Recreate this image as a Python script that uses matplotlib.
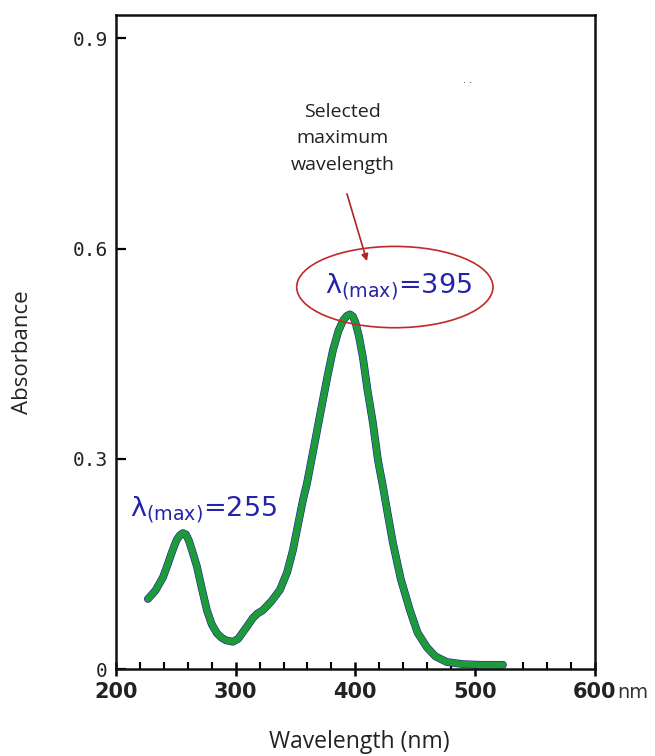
import matplotlib
matplotlib.use('Agg')
import numpy
from matplotlib import pyplot
from matplotlib.patches import Ellipse

# spectrum (nm, absorbance)
wavelength = [226.7, 233, 239.3, 243, 246, 249, 251, 253.5, 256, 258.5, 261, 264,
              267.7, 272, 276, 280, 284.4, 288, 292, 297.7, 302, 305, 310, 314.5,
              318, 322.8, 330, 337, 343, 347.9, 352, 356.2, 359.6, 366, 372.9,
              377, 381.3, 386, 390, 393, 395.5, 398, 400, 403, 406.3, 410, 414.7,
              418.9, 423.1, 427, 431.4, 438, 445.6, 452, 459.8, 467, 476.5, 490,
              505, 523.3]
absorbance = [0.100, 0.112, 0.131, 0.148, 0.163, 0.177, 0.185, 0.191, 0.194, 0.192,
              0.183, 0.167, 0.146, 0.113, 0.084, 0.064, 0.051, 0.045, 0.041, 0.039,
              0.043, 0.050, 0.062, 0.073, 0.079, 0.084, 0.097, 0.113, 0.138, 0.170,
              0.205, 0.241, 0.265, 0.322, 0.384, 0.420, 0.455, 0.483, 0.498, 0.504,
              0.506, 0.503, 0.495, 0.475, 0.445, 0.400, 0.351, 0.298, 0.260, 0.222,
              0.180, 0.128, 0.084, 0.052, 0.031, 0.018, 0.010, 0.007, 0.006, 0.006]

x_ticks = [200, 300, 400, 500, 600]
y_ticks = [0, 0.3, 0.6, 0.9]
y_tick_labels = ['0', '0.3', '0.6', '0.9']

label_main = 'λ$_{\\rm (max)}$=395'
label_second = 'λ$_{\\rm (max)}$=255'

fig = pyplot.figure(figsize=(6.55, 7.56), dpi=100)
ax = fig.add_axes([0.177, 0.115, 0.731, 0.865])

# thin blue original trace under the thick green one
ax.plot(wavelength, absorbance, color='#1c1c9c', lw=5.6, solid_capstyle='round',
        solid_joinstyle='round', zorder=2)
ax.plot(wavelength, absorbance, color='#1e9a3a', lw=4.8, solid_capstyle='round',
        solid_joinstyle='round', zorder=3)

ax.set_xlim(200, 600)
ax.set_ylim(0, 0.933)
ax.set_xticks(x_ticks)
ax.set_xticks(numpy.arange(200, 601, 20), minor=True)
ax.set_yticks(y_ticks)
ax.set_yticklabels(y_tick_labels)

for s in ax.spines.values():
    s.set_linewidth(1.8)
    s.set_color('#111111')

ax.tick_params(axis='x', which='major', direction='inout', length=10, width=1.8,
               labelsize=15, pad=4)
ax.tick_params(axis='x', which='minor', direction='in', length=5, width=1.5)
ax.tick_params(axis='y', which='major', direction='in', length=7, width=1.6,
               labelsize=14, pad=6)
for lab in ax.get_xticklabels():
    lab.set_fontweight('bold')
    lab.set_color('#222222')
for lab in ax.get_yticklabels():
    lab.set_family('DejaVu Sans Mono')
    lab.set_color('#222222')

ax.text(1.047, -0.036, 'nm', transform=ax.transAxes, fontsize=14,
        color='#333333', ha='left', va='center')

ax.set_xlabel('Wavelength (nm)', fontsize=16.5, family='Open Sans',
              color='#222222', va='center')
ax.xaxis.set_label_coords(0.509, -0.112)
ax.set_ylabel('Absorbance', fontsize=16, family='Open Sans', color='#222222',
              va='center')
ax.yaxis.set_label_coords(-0.196, 0.485)

blue = '#2424a8'
ax.text(436, 0.545, label_main, color=blue, fontsize=19.5, ha='center', va='center')
ax.add_patch(Ellipse((433, 0.545), 164, 0.116, fill=False, edgecolor='#c0282a',
                     lw=1.2, zorder=4))

ax.text(273.5, 0.228, label_second, color=blue, fontsize=19.5, ha='center',
        va='center')

ax.text(389.6, 0.757, 'Selected\nmaximum\nwavelength', ha='center', va='center',
        fontsize=14, family='Open Sans', color='#222222', linespacing=1.62)
ax.annotate('', xy=(409.7, 0.582), xytext=(393, 0.678),
            arrowprops=dict(arrowstyle='-|>', color='#b02424', lw=1.2,
                            mutation_scale=10, shrinkA=0, shrinkB=0))

ax.text(0.724, 0.896, '. .', transform=ax.transAxes, fontsize=7, color='#444444')

fig.savefig('out.png', dpi=100)
